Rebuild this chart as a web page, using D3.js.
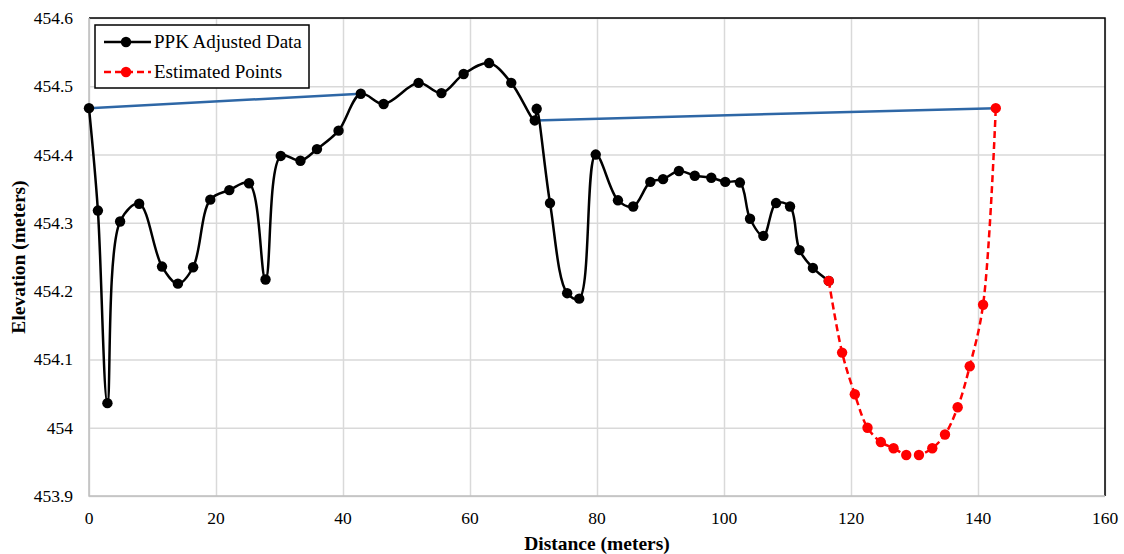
<!DOCTYPE html>
<html>
<head>
<meta charset="utf-8">
<script src="https://cdn.jsdelivr.net/npm/d3@7"></script>
<style>
  body { margin: 0; background: #fff; }
  text { font-family: "Liberation Serif", "Times New Roman", serif; }
</style>
</head>
<body>
<div id="vis"></div>
<script>
const WIDTH = 1124;
const HEIGHT = 554;

// datos
const ppkDist = [0, 1.4, 2.9, 4.9, 7.9, 11.5, 14.0, 16.4, 19.1, 22.1, 25.2, 27.8, 30.2, 33.3, 35.9, 39.3,
  42.8, 46.4, 51.9, 55.5, 59.0, 63.0, 66.5, 70.2, 70.5, 72.6, 75.3, 77.2, 79.8, 83.3, 85.7, 88.4,
  90.4, 92.9, 95.4, 98.0, 100.2, 102.5, 104.1, 106.2, 108.2, 110.4, 111.9, 114.0, 116.5];
const ppkElev = [454.468, 454.318, 454.036, 454.302, 454.328, 454.236, 454.211, 454.235, 454.334, 454.348,
  454.358, 454.217, 454.398, 454.391, 454.408, 454.435, 454.489, 454.474, 454.505, 454.490, 454.518,
  454.534, 454.505, 454.450, 454.467, 454.329, 454.197, 454.189, 454.400, 454.333, 454.324, 454.360,
  454.364, 454.376, 454.369, 454.366, 454.360, 454.359, 454.306, 454.281, 454.329, 454.324, 454.260,
  454.234, 454.215];

const estDist = [116.5, 118.6, 120.6, 122.6, 124.7, 126.7, 128.7, 130.7, 132.8, 134.8, 136.8, 138.7, 140.8, 142.8];
const estElev = [454.215, 454.110, 454.049, 454.000, 453.979, 453.970, 453.960, 453.960, 453.970, 453.990,
  454.030, 454.090, 454.180, 454.468];

// lineas azules (sin leyenda)
const blueA = [[0, 454.468], [42.8, 454.489]];
const blueB = [[70.2, 454.450], [142.8, 454.468]];

const xTicks = [0, 20, 40, 60, 80, 100, 120, 140, 160];
const yTicks = [453.9, 454, 454.1, 454.2, 454.3, 454.4, 454.5, 454.6];
const yTickLabels = ["453.9", "454", "454.1", "454.2", "454.3", "454.4", "454.5", "454.6"];

const margins = [89, 19, 18, 58]; // izquierda, derecha, arriba, abajo

const SVG = d3.select("#vis").append("svg").attr("width", WIDTH).attr("height", HEIGHT);

const escala_x = d3.scaleLinear().domain([0, 160]).range([margins[0], WIDTH - margins[1]]);
const escala_y = d3.scaleLinear().domain([453.9, 454.6]).range([HEIGHT - margins[3], margins[2]]);

// grilla
SVG.append("g")
  .attr("transform", `translate(0,${HEIGHT - margins[3]})`)
  .call(d3.axisBottom(escala_x).tickValues(xTicks).tickSize(-(HEIGHT - margins[2] - margins[3])).tickFormat(""))
  .call(g => g.select(".domain").remove())
  .call(g => g.selectAll("line").attr("stroke", "#d9d9d9").attr("stroke-width", 1.5));

SVG.append("g")
  .attr("transform", `translate(${margins[0]},0)`)
  .call(d3.axisLeft(escala_y).tickValues(yTicks).tickSize(-(WIDTH - margins[0] - margins[1])).tickFormat(""))
  .call(g => g.select(".domain").remove())
  .call(g => g.selectAll("line").attr("stroke", "#d9d9d9").attr("stroke-width", 1.5));

// borde
const x0 = escala_x(0), x1 = escala_x(160), y0 = escala_y(453.9), y1 = escala_y(454.6);
SVG.append("path").attr("d", `M${x0},${y1}H${x1}V${y0}`).attr("fill", "none").attr("stroke", "#000").attr("stroke-width", 1.5);
SVG.append("path").attr("d", `M${x0},${y1}V${y0}H${x1}`).attr("fill", "none").attr("stroke", "#bfbfbf").attr("stroke-width", 1.5);

// etiquetas de ejes
SVG.append("g").selectAll("text").data(xTicks).join("text")
  .attr("x", d => escala_x(d)).attr("y", y0 + 28)
  .attr("text-anchor", "middle").style("font-size", "17.5px").text(d => d);

SVG.append("g").selectAll("text").data(yTicks).join("text")
  .attr("x", x0 - 16).attr("y", d => escala_y(d) + 6)
  .attr("text-anchor", "end").style("font-size", "17.5px").text((d, i) => yTickLabels[i]);

SVG.append("text").attr("x", (x0 + x1) / 2).attr("y", 550).attr("text-anchor", "middle")
  .style("font-size", "19.5px").style("font-weight", "bold").text("Distance (meters)");

SVG.append("text").attr("transform", `translate(25,${(y0 + y1) / 2}) rotate(-90)`).attr("text-anchor", "middle")
  .style("font-size", "19.5px").style("font-weight", "bold").text("Elevation (meters)");

// lineas
const linea = d3.line().x(d => escala_x(d[0])).y(d => escala_y(d[1]));
const curva = d3.line().x(d => escala_x(d[0])).y(d => escala_y(d[1])).curve(d3.curveCatmullRom);

[blueA, blueB].forEach(b => {
  SVG.append("path").attr("d", linea(b)).attr("fill", "none").attr("stroke", "#2e67a6").attr("stroke-width", 2.5);
});

const ppk = ppkDist.map((d, i) => [d, ppkElev[i]]);
const est = estDist.map((d, i) => [d, estElev[i]]);

SVG.append("path").attr("d", curva(ppk)).attr("fill", "none").attr("stroke", "#000").attr("stroke-width", 2.5);
SVG.append("g").selectAll("circle").data(ppk).join("circle")
  .attr("cx", d => escala_x(d[0])).attr("cy", d => escala_y(d[1])).attr("r", 5.2).attr("fill", "#000");

SVG.append("path").attr("d", curva(est)).attr("fill", "none").attr("stroke", "#ff0000")
  .attr("stroke-width", 2.5).attr("stroke-dasharray", "7,4");
SVG.append("g").selectAll("circle").data(est).join("circle")
  .attr("cx", d => escala_x(d[0])).attr("cy", d => escala_y(d[1])).attr("r", 5.2).attr("fill", "#ff0000");

// leyenda
const leyenda = SVG.append("g").attr("transform", "translate(95,25)");
leyenda.append("rect").attr("width", 214).attr("height", 63).attr("fill", "#fff").attr("stroke", "#000").attr("stroke-width", 1.5);
const items = [
  { nombre: "PPK Adjusted Data", color: "#000", dash: null, y: 17 },
  { nombre: "Estimated Points", color: "#ff0000", dash: "7,4", y: 47 }
];
items.forEach(it => {
  leyenda.append("line").attr("x1", 9).attr("x2", 56).attr("y1", it.y).attr("y2", it.y)
    .attr("stroke", it.color).attr("stroke-width", 2.5).attr("stroke-dasharray", it.dash);
  leyenda.append("circle").attr("cx", 31).attr("cy", it.y).attr("r", 5.2).attr("fill", it.color);
  leyenda.append("text").attr("x", 59).attr("y", it.y + 6).style("font-size", "19px").text(it.nombre);
});
</script>
</body>
</html>
